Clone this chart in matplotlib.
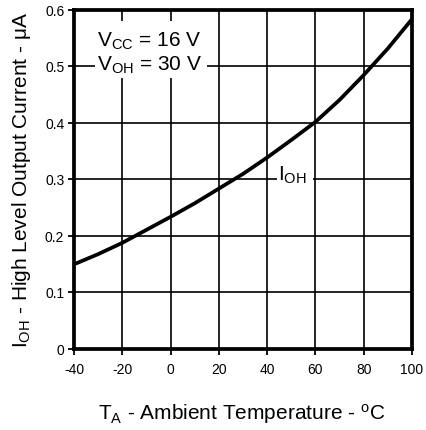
import matplotlib
matplotlib.use("Agg")
import matplotlib.pyplot as plt
from matplotlib.patches import Rectangle

plt.rcParams['font.family'] = ['Liberation Sans', 'DejaVu Sans']
plt.rcParams['mathtext.fontset'] = 'custom'
plt.rcParams['mathtext.rm'] = 'Liberation Sans'
plt.rcParams['mathtext.it'] = 'Liberation Sans:italic'

temps = [-40, -30, -20, -10, 0, 10, 20, 30, 40, 50, 60, 70, 80, 90, 100]
i_oh = [0.149, 0.167, 0.187, 0.210, 0.233, 0.257, 0.283, 0.309, 0.338, 0.369,
        0.401, 0.440, 0.484, 0.531, 0.583]
x_ticks = [-40, -20, 0, 20, 40, 60, 80, 100]
y_ticks = [0, 0.1, 0.2, 0.3, 0.4, 0.5, 0.6]
y_tick_labels = ['0', '0.1', '0.2', '0.3', '0.4', '0.5', '0.6']

fig = plt.figure(figsize=(4.27, 4.31), dpi=100)
ax = fig.add_axes([74/427, 1 - 349.5/431, 338/427, 339/431])

ax.plot(temps, i_oh, color='black', lw=2.7, zorder=3, solid_joinstyle='round')
ax.set_xlim(-40, 100)
ax.set_ylim(0, 0.6)
ax.set_xticks(x_ticks)
ax.set_xticklabels([str(t) for t in x_ticks])
ax.set_yticks(y_ticks)
ax.set_yticklabels(y_tick_labels)
ax.grid(True, color='black', lw=1.2, zorder=1)
ax.set_axisbelow(True)
for s in ax.spines.values():
    s.set_linewidth(2.7)
    s.set_zorder(5)
ax.tick_params(direction='out', length=4, width=1.3, labelsize=10)
ax.tick_params(axis='x', pad=6)
ax.tick_params(axis='y', pad=3)

ax.set_xlabel(r'T$_{\rm A}$ - Ambient Temperature - $^{\rm o}$C', fontsize=15, va='baseline')
ax.xaxis.set_label_coords(0.497, (349.5 - 420) / 339)
ax.set_ylabel(r'I$_{\rm OH}$ - High Level Output Current - μA', fontsize=15)
ax.yaxis.set_label_coords((33 - 74) / 338, 0.5)

# white label backgrounds
ax.add_patch(Rectangle((-31.3, 0.479), 46.4, 0.101, facecolor='white', edgecolor='none', zorder=2))
ax.add_patch(Rectangle((44.1, 0.285), 14.9, 0.04, facecolor='white', edgecolor='none', zorder=2))

ax.text(-30.5, 0.5355, r'V$_{\rm CC}$ = 16 V', fontsize=15, ha='left', va='baseline', zorder=4)
ax.text(-30.5, 0.493, r'V$_{\rm OH}$ = 30 V', fontsize=15, ha='left', va='baseline', zorder=4)
ax.text(44.5, 0.2993, r'I$_{\rm OH}$', fontsize=15, ha='left', va='baseline', zorder=4)

fig.savefig('out.png', dpi=100)
